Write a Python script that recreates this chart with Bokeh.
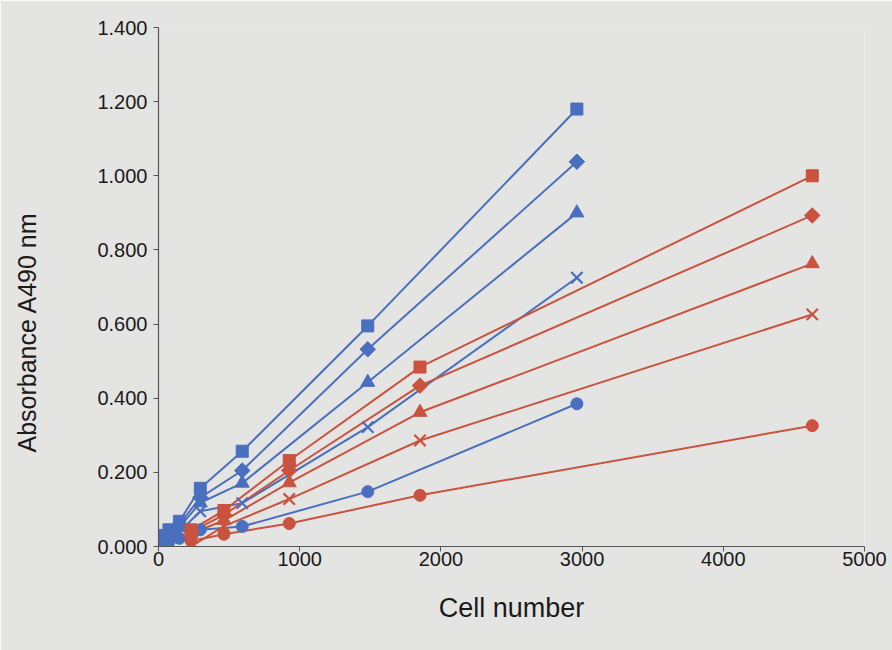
import numpy as np
from bokeh.plotting import figure
from bokeh.models import Range1d, FixedTicker, NumeralTickFormatter, Title
from bokeh.embed import file_html
from bokeh.resources import INLINE

# Blue series (cell numbers and absorbance)
blue_x = [37, 74, 148, 296, 593, 1482, 2963]
blue_square = [0.030, 0.045, 0.068, 0.157, 0.257, 0.595, 1.180]
blue_diamond = [0.025, 0.040, 0.060, 0.132, 0.205, 0.532, 1.038]
blue_triangle = [0.020, 0.035, 0.052, 0.118, 0.171, 0.443, 0.900]
blue_cross = [0.012, 0.025, 0.040, 0.095, 0.117, 0.322, 0.725]
blue_circle = [0.005, 0.012, 0.022, 0.045, 0.054, 0.148, 0.385]

# Red series
red_x = [231, 463, 926, 1852, 4630]
red_square = [0.045, 0.097, 0.232, 0.484, 1.000]
red_diamond = [0.040, 0.085, 0.205, 0.434, 0.893]
red_triangle = [0.035, 0.070, 0.172, 0.362, 0.763]
red_cross = [0.000, 0.055, 0.128, 0.286, 0.626]
red_circle = [0.015, 0.033, 0.062, 0.138, 0.326]

x_ticks = [0, 1000, 2000, 3000, 4000, 5000]
y_ticks = [0.0, 0.2, 0.4, 0.6, 0.8, 1.0, 1.2, 1.4]

BLUE = "#4a6fbf"
RED = "#c9533f"
BG = "#e4e4e2"
FONT = "Liberation Sans"

p = figure(width=892, height=650, output_backend="svg", toolbar_location=None,
           x_range=Range1d(0, 5000), y_range=Range1d(0, 1.4),
           min_border_left=158, min_border_right=28, min_border_top=27, min_border_bottom=104)
p.background_fill_color = BG
p.border_fill_color = BG
p.outline_line_color = None
p.xgrid.visible = False
p.ygrid.visible = False

for ax in (p.xaxis[0], p.yaxis[0]):
    ax.axis_line_color = "#555555"
    ax.axis_line_width = 1.2
    ax.major_tick_line_color = "#555555"
    ax.minor_tick_line_color = None
    ax.major_tick_out = 5
    ax.major_tick_in = 0
    ax.major_label_text_font = FONT
    ax.major_label_text_font_size = "20px"
    ax.major_label_text_color = "#1a1a1a"
    ax.axis_label_text_font = FONT
    ax.axis_label_text_font_style = "normal"
    ax.axis_label_text_color = "#1a1a1a"

p.xaxis.axis_label_text_font_size = "27px"
p.xaxis.ticker = FixedTicker(ticks=x_ticks)
p.yaxis.ticker = FixedTicker(ticks=y_ticks)
p.yaxis.formatter = NumeralTickFormatter(format="0.000")
p.xaxis.formatter = NumeralTickFormatter(format="0")
p.xaxis.axis_label = "Cell number"
p.xaxis.major_label_standoff = 0
p.yaxis.major_label_standoff = 6
p.xaxis.axis_label_standoff = 24

# blank spacer label on the y axis so the title sits near the left edge
p.yaxis.axis_label = " "
p.yaxis.axis_label_text_font_size = "25px"
p.yaxis.axis_label_standoff = 12

# y-axis title, sitting a little below the frame centre as in the reference
ytitle = Title(text="Absorbance A490 nm", align="left", offset=94, standoff=21,
               text_font=FONT, text_font_size="25px", text_font_style="normal",
               text_color="#1a1a1a")
p.add_layout(ytitle, "left")

series = [
    (blue_x, blue_square, BLUE, "square", 12),
    (blue_x, blue_diamond, BLUE, "diamond", 11),
    (blue_x, blue_triangle, BLUE, "triangle", 14),
    (blue_x, blue_cross, BLUE, "x", 16),
    (blue_x, blue_circle, BLUE, "circle", 12),
    (red_x, red_square, RED, "square", 12),
    (red_x, red_diamond, RED, "diamond", 11),
    (red_x, red_triangle, RED, "triangle", 14),
    (red_x, red_cross, RED, "x", 16),
    (red_x, red_circle, RED, "circle", 12),
]

for xs, ys, col, mk, sz in series:
    p.line(xs, ys, line_color=col, line_width=2)
for xs, ys, col, mk, sz in series:
    if mk == "x":
        p.scatter(xs, ys, marker="x", size=sz, line_color=col, line_width=2.2)
    elif mk == "diamond":
        p.scatter(xs, ys, marker="square", size=sz, angle=np.pi / 4,
                  fill_color=col, line_color=col)
    else:
        p.scatter(xs, ys, marker=mk, size=sz, fill_color=col, line_color=col)

open("out.html", "w").write(file_html(p, INLINE))
